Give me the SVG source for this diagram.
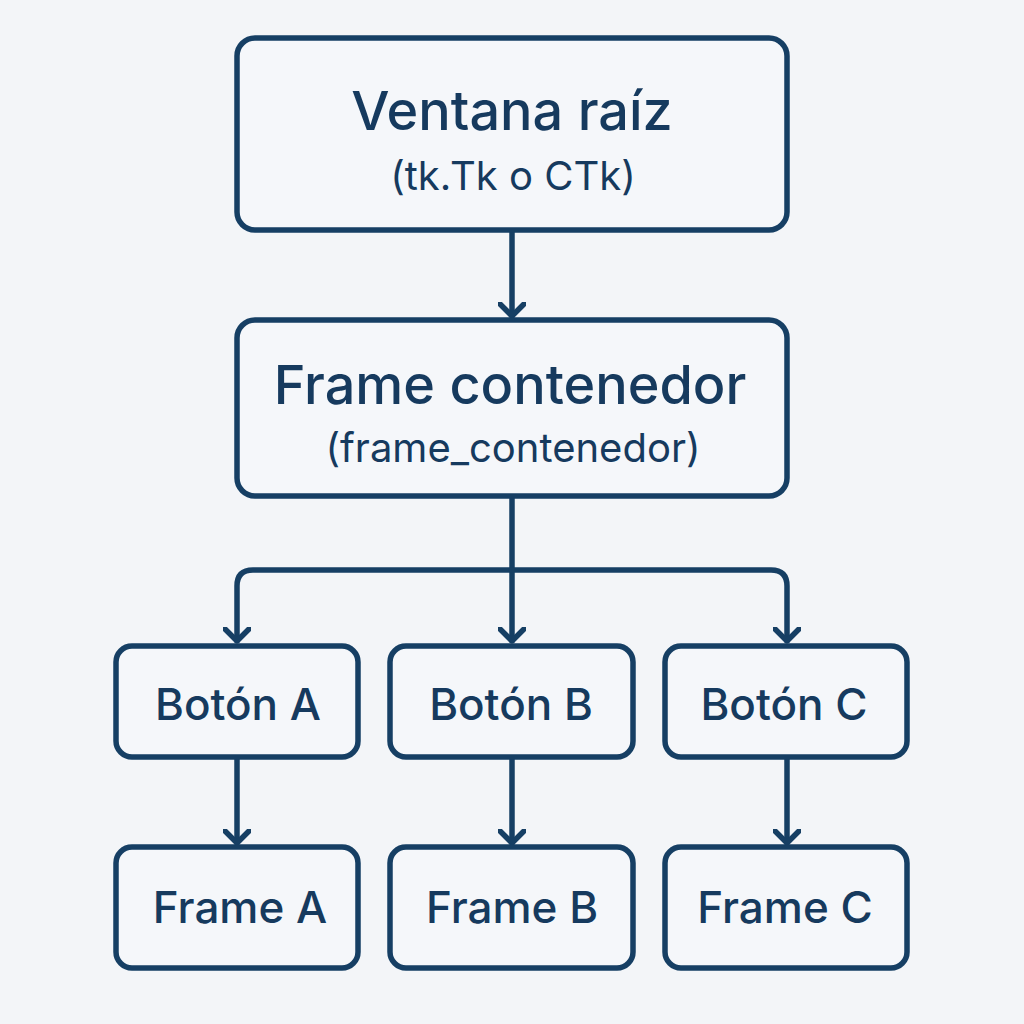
<svg xmlns="http://www.w3.org/2000/svg" width="1024" height="1024" viewBox="0 0 1024 1024">
<defs>
<style>
.box{fill:#f5f7fa;stroke:#163f64;stroke-width:5.5}
.line{fill:none;stroke:#163f64;stroke-width:5.5;stroke-linecap:round;stroke-linejoin:round}
.t{font-family:Inter,"Liberation Sans",sans-serif;fill:#163a5e;text-anchor:middle}
.big{font-size:54px;font-weight:500}
.sub{font-size:40px}
.mid{font-size:44px;font-weight:500}
</style>
<marker id="arr" viewBox="-14 -14 16 28" markerWidth="16" markerHeight="28" refX="0" refY="0" orient="auto" markerUnits="userSpaceOnUse">
<path d="M-12,-12 L0,0 L-12,12" fill="none" stroke="#163f64" stroke-width="5.5" stroke-linecap="round" stroke-linejoin="round"/>
</marker>
</defs>
<rect width="1024" height="1024" fill="#f3f5f8"/>
<g id="connectors">
<path class="line" d="M512,230 L512,316" marker-end="url(#arr)"/>
<path class="line" d="M512,496 L512,641" marker-end="url(#arr)"/>
<path class="line" d="M512,570 L253,570 Q237,570 237,586 L237,641" marker-end="url(#arr)"/>
<path class="line" d="M512,570 L771,570 Q787,570 787,586 L787,641" marker-end="url(#arr)"/>
<path class="line" d="M237,757 L237,843" marker-end="url(#arr)"/>
<path class="line" d="M512,757 L512,843" marker-end="url(#arr)"/>
<path class="line" d="M787,757 L787,843" marker-end="url(#arr)"/>
</g>
<g id="ventana">
<rect class="box" x="237" y="38" width="550" height="192" rx="18"/>
<text class="t big" x="512" y="130">Ventana raíz</text>
<text class="t sub" x="513" y="190">(tk.Tk o CTk)</text>
</g>
<g id="frame_contenedor">
<rect class="box" x="237" y="320" width="550" height="176" rx="18"/>
<text class="t big" x="510" y="404">Frame contenedor</text>
<text class="t sub" x="513" y="462">(frame_contenedor)</text>
</g>
<g id="boton_a">
<rect class="box" x="116" y="646" width="242" height="111" rx="16"/>
<text class="t mid" x="238" y="720">Botón A</text>
</g>
<g id="boton_b">
<rect class="box" x="390" y="646" width="243" height="111" rx="16"/>
<text class="t mid" x="511" y="720">Botón B</text>
</g>
<g id="boton_c">
<rect class="box" x="665" y="646" width="242" height="111" rx="16"/>
<text class="t mid" x="784" y="720">Botón C</text>
</g>
<g id="frame_a">
<rect class="box" x="116" y="847" width="242" height="121" rx="16"/>
<text class="t mid" x="240" y="923">Frame A</text>
</g>
<g id="frame_b">
<rect class="box" x="390" y="847" width="243" height="121" rx="16"/>
<text class="t mid" x="512" y="923">Frame B</text>
</g>
<g id="frame_c">
<rect class="box" x="665" y="847" width="242" height="121" rx="16"/>
<text class="t mid" x="785" y="923">Frame C</text>
</g>
</svg>
